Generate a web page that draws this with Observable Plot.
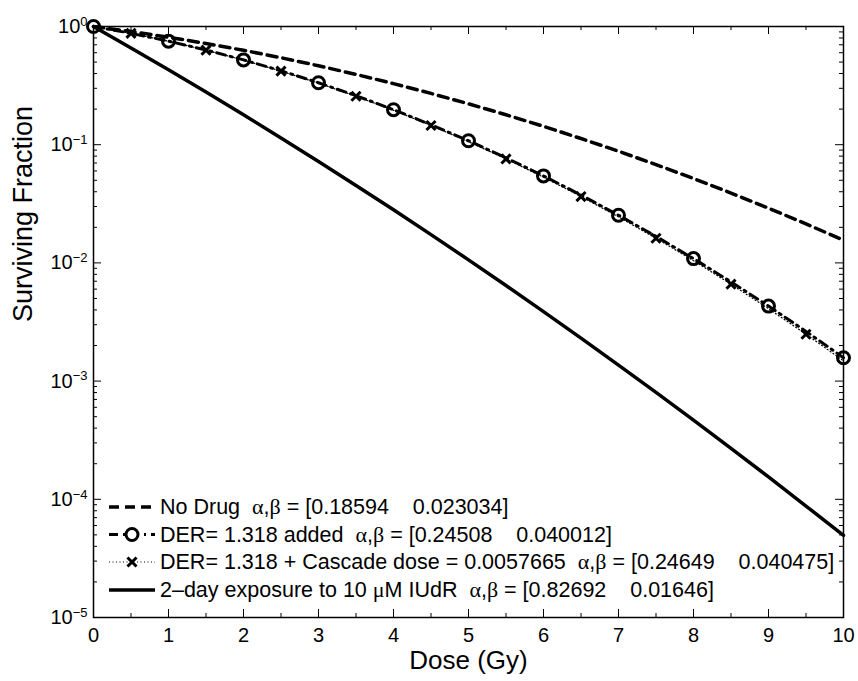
<!DOCTYPE html>
<html>
<head>
<meta charset="utf-8">
<script src="https://cdn.jsdelivr.net/npm/d3@7"></script>
<script src="https://cdn.jsdelivr.net/npm/@observablehq/plot@0.6"></script>
<style>
  html, body { margin: 0; padding: 0; background: #fff; }
  #chart { width: 858px; height: 681px; }
</style>
</head>
<body>
<div id="chart"></div>
<script>
// ---- data ----
const dose = [0, 0.5, 1, 1.5, 2, 2.5, 3, 3.5, 4, 4.5, 5, 5.5, 6, 6.5, 7, 7.5, 8, 8.5, 9, 9.5, 10];
const noDrug = [1, 0.9060, 0.8114, 0.7184, 0.6288, 0.5440, 0.4653, 0.3934, 0.3288, 0.2716, 0.2219, 0.1792, 0.1430, 0.1128, 0.08800, 0.06786, 0.05173, 0.03898, 0.02904, 0.02138, 0.01556];
const derAdded = [1, 0.8759, 0.7519, 0.6327, 0.5219, 0.4220, 0.3344, 0.2598, 0.1978, 0.1476, 0.1080, 0.07743, 0.05443, 0.03750, 0.02532, 0.01676, 0.01087, 0.006915, 0.004311, 0.002634, 0.001577];
const derCascade = [1, 0.8751, 0.7505, 0.6308, 0.5195, 0.4193, 0.3316, 0.2570, 0.1952, 0.1453, 0.1060, 0.07577, 0.05308, 0.03643, 0.02451, 0.01616, 0.01044, 0.006608, 0.004100, 0.002492, 0.001485];
const iudr = [1, 0.6586, 0.4302, 0.2788, 0.1791, 0.1141, 0.07216, 0.04524, 0.02813, 0.01735, 0.01061, 0.006435, 0.003872, 0.002310, 0.001367, 0.0008025, 0.0004672, 0.0002697, 0.0001545, 0.00008773, 0.00004942];

const xTicks = [0, 1, 2, 3, 4, 5, 6, 7, 8, 9, 10];
const xMinorTicks = [0.5, 1.5, 2.5, 3.5, 4.5, 5.5, 6.5, 7.5, 8.5, 9.5];
const yTicks = [1e-5, 1e-4, 1e-3, 1e-2, 1e-1, 1];
const yMinorTicks = [];
for (const dec of [1e-5, 1e-4, 1e-3, 1e-2, 1e-1]) for (let m = 2; m <= 9; m++) yMinorTicks.push(+(m * dec).toPrecision(3));

const legendNames = ["No Drug", "DER= 1.318 added", "DER= 1.318 + Cascade dose = 0.0057665", "2\u2013day exposure to 10 \u03bcM IUdR"];
const legendParams = ["[0.18594    0.023034]", "[0.24508    0.040012]", "[0.24649    0.040475]", "[0.82692    0.01646]"];

const xLabel = "Dose (Gy)";
const yLabel = "Surviving Fraction";

// ---- build table ----
const rows = dose.map((d, i) => ({dose: d, noDrug: noDrug[i], der: derAdded[i], cascade: derCascade[i], iudr: iudr[i]}));
const circleRows = rows.filter(r => Number.isInteger(r.dose));
const crossRows = rows.filter(r => !Number.isInteger(r.dose));

const W = 858, H = 681;
const mL = 93, mR = 15, mT = 26, mB = 64;
const innerW = W - mL - mR, innerH = H - mT - mB;
const FONT = "'Liberation Sans', Arial, Helvetica, sans-serif";
const SERIF = "'Liberation Serif', 'Times New Roman', serif";

const tickStyle = {stroke: "black", strokeWidth: 1};
const derDash = "9,5,2,5";

const chart = Plot.plot({
  width: W, height: H,
  marginLeft: mL, marginRight: mR, marginTop: mT, marginBottom: mB,
  style: {fontFamily: FONT, fontSize: "20px", color: "black", background: "white", overflow: "visible"},
  x: {domain: [0, 10]},
  y: {type: "log", domain: [1e-5, 1]},
  marks: [
    Plot.frame({stroke: "black", strokeWidth: 1.5}),
    // inward major / minor ticks on all four sides
    Plot.tickX(xTicks, {x: d => d, insetTop: innerH - 8, ...tickStyle}),
    Plot.tickX(xTicks, {x: d => d, insetBottom: innerH - 8, ...tickStyle}),
    Plot.tickX(xMinorTicks, {x: d => d, insetTop: innerH - 4, ...tickStyle}),
    Plot.tickX(xMinorTicks, {x: d => d, insetBottom: innerH - 4, ...tickStyle}),
    Plot.tickY(yTicks, {y: d => d, insetRight: innerW - 8, ...tickStyle}),
    Plot.tickY(yTicks, {y: d => d, insetLeft: innerW - 8, ...tickStyle}),
    Plot.tickY(yMinorTicks, {y: d => d, insetRight: innerW - 4, ...tickStyle}),
    Plot.tickY(yMinorTicks, {y: d => d, insetLeft: innerW - 4, ...tickStyle}),
    Plot.axisX(xTicks, {label: null, tickSize: 0, tickPadding: 10, tickFormat: d => String(d), fontSize: 20}),
    Plot.axisY(yTicks, {label: null, tickSize: 0, tickPadding: 6, tickFormat: d => "10|" + Math.round(Math.log10(d)), fontSize: 20}),
    // curves
    Plot.line(rows, {x: "dose", y: "noDrug", stroke: "black", strokeWidth: 3.5, strokeDasharray: "10,6"}),
    Plot.line(rows, {x: "dose", y: "cascade", stroke: "black", strokeWidth: 1.2, strokeDasharray: "1,2.5"}),
    Plot.line(rows, {x: "dose", y: "der", stroke: "black", strokeWidth: 3, strokeDasharray: derDash}),
    Plot.line(rows, {x: "dose", y: "iudr", stroke: "black", strokeWidth: 3.5}),
    Plot.dot(crossRows, {x: "dose", y: "cascade", symbol: "times", r: 4.2, stroke: "black", strokeWidth: 3}),
    Plot.dot(circleRows, {x: "dose", y: "der", symbol: "circle", r: 6, stroke: "black", strokeWidth: 3, fill: "none"}),
    // axis titles
    Plot.text([xLabel], {frameAnchor: "bottom", dy: 51, fontSize: 26}),
    Plot.text([yLabel], {frameAnchor: "left", dx: -70, rotate: -90, fontSize: 27})
  ]
});

document.getElementById("chart").appendChild(chart);
const svg = d3.select(chart);

// superscript exponents on y tick labels
svg.selectAll('g[aria-label="y-axis tick label"] text').each(function () {
  const t = this.textContent;
  if (!t.includes("|")) return;
  const k = +t.split("|")[1];
  const sel = d3.select(this);
  sel.text(null);
  sel.append("tspan").text("10");
  sel.append("tspan").attr("dy", "-0.55em").attr("font-size", "13px").text(k < 0 ? "\u2212" + (-k) : String(k));
});

// legend (inside lower-left of the axes)
const legend = svg.append("g")
  .attr("font-family", FONT).attr("font-size", "21.5px").attr("fill", "black")
  .attr("text-anchor", "start");
const rowY = [507, 534.5, 562, 590];
const sx0 = 109, sx1 = 155, tx = 160;
function greekText(sel, str) {
  for (const part of str.split(/([\u0370-\u03ff]+)/)) {
    if (!part) continue;
    const ts = sel.append("tspan").text(part);
    if (/[\u0370-\u03ff]/.test(part)) ts.attr("font-family", SERIF).attr("font-size", "22px");
  }
}
const styles = [
  {w: 3.5, dash: "10,6"},
  {w: 3, dash: derDash},
  {w: 1.2, dash: "1,2.5"},
  {w: 3.5, dash: null}
];
legendNames.forEach((name, i) => {
  const y = rowY[i];
  const ln = legend.append("line").attr("x1", sx0).attr("x2", sx1).attr("y1", y).attr("y2", y)
    .attr("stroke", "black").attr("stroke-width", styles[i].w);
  if (styles[i].dash) ln.attr("stroke-dasharray", styles[i].dash);
  const cx = (sx0 + sx1) / 2;
  if (i === 1) legend.append("circle").attr("cx", cx).attr("cy", y).attr("r", 6).attr("fill", "white").attr("stroke", "black").attr("stroke-width", 3);
  if (i === 2) legend.append("path").attr("d", d3.symbol(d3.symbolTimes, Math.PI * 4.2 * 4.2)()).attr("transform", `translate(${cx},${y})`).attr("stroke", "black").attr("stroke-width", 3).attr("fill", "none");
  const text = legend.append("text").attr("x", tx).attr("y", y + 7)
    .attr("text-anchor", "start").style("white-space", "pre");
  greekText(text, name);
  text.append("tspan").text("  ");
  greekText(text, "\u03b1,\u03b2");
  text.append("tspan").text(" = " + legendParams[i]);
});
</script>
</body>
</html>
